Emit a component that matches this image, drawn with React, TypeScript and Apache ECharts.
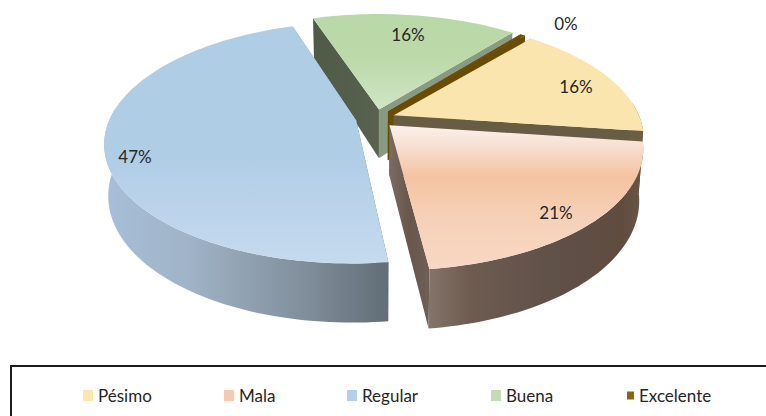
import React, { useEffect, useRef } from "react";
import * as echarts from "echarts";

const categories = ["Pésimo", "Mala", "Regular", "Buena", "Excelente"];
const values = [16, 21, 47, 16, 0.4];

const legendColors = ["#fde5ac", "#f7c9ad", "#b3cfe9", "#c3dcb5", "#8a6508"];
const legendLefts = [83, 224, 347, 491, 627];
const legendIconSizes = [[10, 11], [10, 11], [10, 11], [10, 11], [7, 8]];
const labelAnchors = [[576, 86], [556, 212], [135, 156], [408, 34], [566, 23]];

// Pie geometry: a circle in a plane, seen through one perspective projection.
const START_DEG = 49.6;
const CX = 375.5;
const CY = 118.5;
const A = 246.3;
const B = 115.9;
const P = 0.183;
const EXPLODE = 0.08;
const DEPTH_CENTER = 49.5;
const DEPTH_SLOPE = 9.5;
const BOTTOM_SCALE = 0.985;

const total = values.reduce((s, v) => s + v, 0);
const spans = values.map((v) => (v / total) * 2 * Math.PI);
const starts = spans.map((_, i) => (START_DEG * Math.PI) / 180 - spans.slice(0, i).reduce((s, v) => s + v, 0));

type Pt = [number, number];
const topAt = (u: number, v: number): Pt => {
  const w = 1 + P * v;
  return [CX + (A * u) / w, CY - (B * v) / w];
};
const bottomAt = (u: number, v: number): Pt => {
  const [x, y] = topAt(u, v);
  return [CX + (x - CX) * BOTTOM_SCALE, y + DEPTH_CENTER - DEPTH_SLOPE * v];
};

const grad = (x2: number, y2: number, stops: [number, string][]) =>
  new echarts.graphic.LinearGradient(0, 0, x2, y2, stops.map(([offset, color]) => ({ offset, color })));

const looks = [
  {
    top: () => "#fbe5ae",
    wallStart: "#7b7257",
    wallEnd: "#675d44",
    arc: () => "#6a5f45",
  },
  {
    top: () => grad(0, 1, [[0, "#fbf2ed"], [0.14, "#f7e0d3"], [0.36, "#f4c3a1"], [0.62, "#f6d0b6"], [1, "#f8d8c4"]]),
    wallStart: "#6a5448",
    wallEnd: grad(1, 0, [[0, "#7b6b62"], [0.5, "#6a564a"], [1, "#6f5f55"]]),
    arc: () => grad(1, 0, [[0, "#857469"], [0.2, "#6d5b50"], [0.6, "#5f5048"], [0.9, "#5f4c3f"], [1, "#6a5648"]]),
  },
  {
    top: () => grad(0, 1, [[0, "#b0cde6"], [0.55, "#b0cde6"], [1, "#c6daef"]]),
    wallStart: "#667079",
    wallEnd: "#8fa3b8",
    arc: () => grad(1, 0, [[0, "#a7bfd9"], [0.3, "#a0b3c7"], [0.7, "#818f9c"], [1, "#626d76"]]),
  },
  {
    top: () => grad(0, 1, [[0, "#b9d8a7"], [0.45, "#bbd9a9"], [1, "#d1e5c5"]]),
    wallStart: grad(1, 0, [[0, "#4f5b46"], [1, "#58624f"]]),
    wallEnd: "#8a9a80",
    arc: () => "#525e49",
  },
  {
    top: () => "#6f4e00",
    wallStart: "#6b4b00",
    wallEnd: "#6b4b00",
    arc: () => "#6b4b00",
  },
];

const poly = (points: Pt[], fill: any) => ({
  type: "polygon",
  shape: { points },
  style: { fill, stroke: "none", lineWidth: 0 },
  silent: true,
});

const renderSlice = (index: number) => () => {
  const look = looks[index];
  const a0 = starts[index];
  const a1 = a0 - spans[index];
  const mid = (a0 + a1) / 2;
  const ox = EXPLODE * Math.cos(mid);
  const oy = EXPLODE * Math.sin(mid);
  const steps = Math.max(2, Math.ceil(spans[index] * 40));
  const rim: [number, number][] = [];
  for (let k = 0; k <= steps; k++) {
    const t = a0 + ((a1 - a0) * k) / steps;
    rim.push([ox + Math.cos(t), oy + Math.sin(t)]);
  }
  const apexTop = topAt(ox, oy);
  const apexBottom = bottomAt(ox, oy);
  const rimTop = rim.map(([u, v]) => topAt(u, v));
  const rimBottom = rim.map(([u, v]) => bottomAt(u, v));
  const last = rim.length - 1;

  // Only the part of the rim wall that faces the viewer takes the gradient.
  const front = rim.map((p, k) => ({ p, k })).filter(({ p }) => p[1] - oy < 0.12);
  const frontTop = front.map(({ k }) => rimTop[k]);
  const frontBottom = front.map(({ k }) => rimBottom[k]).reverse();

  const children: any[] = [
    poly([apexTop, rimTop[0], rimBottom[0], apexBottom], look.wallStart),
    poly([apexTop, rimTop[last], rimBottom[last], apexBottom], look.wallEnd),
  ];
  if (front.length > 1) children.push(poly([...frontTop, ...frontBottom], look.arc()));
  children.push(poly([apexTop, ...rimTop], look.top()));

  const pct = `${Math.round((values[index] / total) * 100)}%`;
  const [lx, ly] = labelAnchors[index];
  children.push({
    type: "text",
    x: lx,
    y: ly,
    silent: true,
    style: {
      text: pct,
      fill: "#262626",
      font: '17px Lato, "Open Sans", sans-serif',
      textAlign: "center",
      textVerticalAlign: "middle",
    },
  });
  return { type: "group", children };
};

// Back to front.
const drawOrder = [3, 4, 0, 2, 1];

export default function App() {
  const ref = useRef<HTMLDivElement>(null);
  useEffect(() => {
    document.body.style.margin = "0";
    document.body.style.overflow = "hidden";
    const chart = echarts.init(ref.current!, undefined, { renderer: "svg" });
    chart.setOption({
      animation: false,
      backgroundColor: "#ffffff",
      graphic: [
        {
          type: "rect",
          shape: { x: 11, y: 366, width: 800, height: 80 },
          style: { fill: "none", stroke: "#1c1c1c", lineWidth: 2 },
          silent: true,
          z: 1,
        },
      ],
      legend: categories.map((name, i) => ({
        data: [name],
        left: legendLefts[i],
        top: 387,
        padding: 0,
        itemWidth: legendIconSizes[i][0],
        itemHeight: legendIconSizes[i][1],
        itemGap: 0,
        icon: "rect",
        selectedMode: false,
        textStyle: {
          fontFamily: 'Lato, "Open Sans", sans-serif',
          fontSize: 17,
          color: "#262626",
        },
      })),
      series: drawOrder.map((i, order) => ({
        type: "custom",
        name: categories[i],
        coordinateSystem: "none",
        data: [values[i]],
        z: 2 + order,
        silent: true,
        itemStyle: { color: legendColors[i] },
        renderItem: renderSlice(i),
      })),
    });
    return () => chart.dispose();
  }, []);
  return <div ref={ref} style={{ width: 766, height: 416 }} />;
}
